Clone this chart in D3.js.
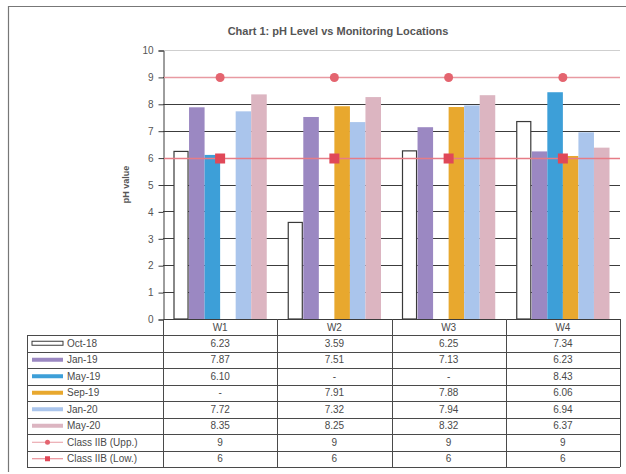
<!DOCTYPE html>
<html>
<head>
<meta charset="utf-8">
<script src="https://cdn.jsdelivr.net/npm/d3@7/dist/d3.min.js"></script>
<style>
  html, body { margin: 0; padding: 0; background: #ffffff; }
  svg { display: block; font-family: "Liberation Sans", Arial, sans-serif; }
</style>
</head>
<body>
<svg id="chart" width="626" height="474"></svg>
<script>
// Monitoring locations
const categories = ["W1", "W2", "W3", "W4"];

// Sampling campaigns (bars)
const seriesNames = ["Oct-18", "Jan-19", "May-19", "Sep-19", "Jan-20", "May-20"];
const oct18 = [6.23, 3.59, 6.25, 7.34];
const jan19 = [7.87, 7.51, 7.13, 6.23];
const may19 = [6.10, null, null, 8.43];
const sep19 = [null, 7.91, 7.88, 6.06];
const jan20 = [7.72, 7.32, 7.94, 6.94];
const may20 = [8.35, 8.25, 8.32, 6.37];

// Class IIB limits (lines)
const limitNames = ["Class IIB (Upp.)", "Class IIB (Low.)"];
const classUpper = [9, 9, 9, 9];
const classLower = [6, 6, 6, 6];

const yTicks = [0, 1, 2, 3, 4, 5, 6, 7, 8, 9, 10];

const barSeries = [oct18, jan19, may19, sep19, jan20, may20];
const barFill = ["#ffffff", "#9b88c2", "#3d9fd8", "#e8a82e", "#aac5ec", "#dcb5c1"];
const barStroke = ["#3a3a3a", null, null, null, null, null];
const upperLine = "#e89aa2", upperMark = "#e4646f";
const lowerLine = "#e67c86", lowerMark = "#e04858";

const svg = d3.select("#chart");
const ink = "#4a4a4a";

// Outer frame
svg.append("path")
  .attr("d", "M8.5,472 L8.5,6.5 L626,6.5")
  .attr("fill", "none").attr("stroke", "#777").attr("stroke-width", 1.2);

const plotLeft = 163, plotRight = 620, plotTop = 50, plotBottom = 319;

const y = d3.scaleLinear().domain([0, 10]).range([plotBottom, plotTop]);
const x0 = d3.scaleBand().domain(categories).range([plotLeft, plotRight]).padding(0);
const x1 = d3.scaleBand().domain(seriesNames)
  .range([10.5, x0.bandwidth() - 10.5]).padding(0);
const py = v => Math.round(y(v)) + 0.5;

// Title
svg.append("text")
  .attr("x", 338).attr("y", 35)
  .attr("text-anchor", "middle")
  .attr("font-size", 11).attr("font-weight", "bold")
  .attr("fill", "#555")
  .text("Chart 1: pH Level vs Monitoring Locations");

// Y axis title
svg.append("text")
  .attr("transform", "translate(129," + ((plotTop + plotBottom) / 2) + ") rotate(-90)")
  .attr("text-anchor", "middle")
  .attr("font-size", 9).attr("font-weight", "bold")
  .attr("fill", "#555")
  .text("pH value");

// Horizontal gridlines
svg.append("g")
  .selectAll("line")
  .data(yTicks.filter(d => d > 0))
  .join("line")
  .attr("x1", plotLeft).attr("x2", plotRight)
  .attr("y1", d => py(d)).attr("y2", d => py(d))
  .attr("stroke", d => d === 10 ? "#cfcfcf" : "#3c3c3c")
  .attr("stroke-width", 1);

// Y axis
const yAxis = d3.axisLeft(y).tickValues(yTicks).tickSize(5).tickPadding(5);
const gy = svg.append("g")
  .attr("transform", "translate(" + (plotLeft + 0.5) + ",0.5)")
  .call(yAxis);
gy.select(".domain").attr("stroke", "#3c3c3c");
gy.selectAll(".tick line").attr("stroke", "#3c3c3c");
gy.selectAll(".tick text")
  .attr("font-size", 10).attr("fill", "#555")
  .attr("font-family", "Liberation Sans, Arial, sans-serif");

// Bars
const groups = svg.append("g")
  .selectAll("g")
  .data(categories)
  .join("g")
  .attr("transform", d => "translate(" + x0(d) + ",0)");

groups.selectAll("rect")
  .data((c, ci) => seriesNames.map((s, si) => ({ s, si, v: barSeries[si][ci] }))
    .filter(d => d.v !== null))
  .join("rect")
  .attr("x", d => x1(d.s) + (barStroke[d.si] ? 0.5 : 0))
  .attr("width", d => x1.bandwidth() - (barStroke[d.si] ? 1.5 : 0))
  .attr("y", d => y(d.v))
  .attr("height", d => y(0) - y(d.v))
  .attr("fill", d => barFill[d.si])
  .attr("stroke", d => barStroke[d.si] || "none")
  .attr("stroke-width", 1.2);

// X axis baseline
svg.append("line")
  .attr("x1", plotLeft).attr("x2", plotRight)
  .attr("y1", plotBottom + 0.5).attr("y2", plotBottom + 0.5)
  .attr("stroke", "#3c3c3c");

// Limit lines with markers
const cx = d => x0(d) + x0.bandwidth() / 2;

svg.append("line")
  .attr("x1", plotLeft + 1).attr("x2", plotRight)
  .attr("y1", py(classUpper[0])).attr("y2", py(classUpper[classUpper.length - 1]))
  .attr("stroke", upperLine).attr("stroke-width", 1.3);
svg.append("g").selectAll("circle").data(classUpper).join("circle")
  .attr("cx", (d, i) => cx(categories[i])).attr("cy", d => py(d))
  .attr("r", 4.5).attr("fill", upperMark);

svg.append("line")
  .attr("x1", plotLeft + 1).attr("x2", plotRight)
  .attr("y1", py(classLower[0])).attr("y2", py(classLower[classLower.length - 1]))
  .attr("stroke", lowerLine).attr("stroke-width", 1.3);
svg.append("g").selectAll("rect").data(classLower).join("rect")
  .attr("x", (d, i) => cx(categories[i]) - 5).attr("y", d => py(d) - 5)
  .attr("width", 10).attr("height", 10).attr("fill", lowerMark);

// Data table
const tableLeft = 27, headTop = plotBottom, rowTop = 335, rowH = 16.5;
const rows = [
  { name: seriesNames[0], vals: oct18, key: "bar", si: 0 },
  { name: seriesNames[1], vals: jan19, key: "bar", si: 1 },
  { name: seriesNames[2], vals: may19, key: "bar", si: 2 },
  { name: seriesNames[3], vals: sep19, key: "bar", si: 3 },
  { name: seriesNames[4], vals: jan20, key: "bar", si: 4 },
  { name: seriesNames[5], vals: may20, key: "bar", si: 5 },
  { name: limitNames[0], vals: classUpper, key: "circle" },
  { name: limitNames[1], vals: classLower, key: "square" }
];
const tableBottom = rowTop + rows.length * rowH;
const grid = svg.append("g").attr("stroke", "#4a4a4a").attr("stroke-width", 1);

// horizontal rules
rows.forEach((r, i) => {
  grid.append("line")
    .attr("x1", tableLeft).attr("x2", plotRight)
    .attr("y1", Math.round(rowTop + i * rowH) + 0.5)
    .attr("y2", Math.round(rowTop + i * rowH) + 0.5);
});
grid.append("line")
  .attr("x1", tableLeft).attr("x2", plotRight)
  .attr("y1", Math.round(tableBottom) + 0.5).attr("y2", Math.round(tableBottom) + 0.5);

// vertical rules
grid.append("line")
  .attr("x1", tableLeft + 0.5).attr("x2", tableLeft + 0.5)
  .attr("y1", rowTop).attr("y2", tableBottom);
categories.forEach(c => {
  grid.append("line")
    .attr("x1", Math.round(x0(c)) + 0.5).attr("x2", Math.round(x0(c)) + 0.5)
    .attr("y1", headTop).attr("y2", tableBottom);
});
grid.append("line")
  .attr("x1", plotRight + 0.5).attr("x2", plotRight + 0.5)
  .attr("y1", headTop).attr("y2", tableBottom);

// column headers
svg.append("g").selectAll("text").data(categories).join("text")
  .attr("x", d => cx(d)).attr("y", headTop + 12)
  .attr("text-anchor", "middle").attr("font-size", 10).attr("fill", ink)
  .text(d => d);

// row labels, keys and values
const fmt = d3.format(".2f");
rows.forEach((r, i) => {
  const yc = rowTop + i * rowH + rowH / 2;
  const g = svg.append("g");
  if (r.key === "bar") {
    g.append("rect")
      .attr("x", 32).attr("y", yc - 2).attr("width", 31).attr("height", 4)
      .attr("fill", barFill[r.si])
      .attr("stroke", barStroke[r.si] || "none").attr("stroke-width", 1);
  } else {
    g.append("line")
      .attr("x1", 32).attr("x2", 63).attr("y1", yc).attr("y2", yc)
      .attr("stroke", r.key === "circle" ? upperLine : lowerLine);
    if (r.key === "circle") {
      g.append("circle").attr("cx", 47.5).attr("cy", yc).attr("r", 2.5).attr("fill", upperMark);
    } else {
      g.append("rect").attr("x", 45).attr("y", yc - 2.5).attr("width", 5).attr("height", 5)
        .attr("fill", lowerMark);
    }
  }
  g.append("text")
    .attr("x", 67).attr("y", yc + 3.5)
    .attr("font-size", 10).attr("fill", ink)
    .text(r.name);
  g.selectAll("text.val").data(r.vals).join("text")
    .attr("class", "val")
    .attr("x", (d, ci) => cx(categories[ci])).attr("y", yc + 3.5)
    .attr("text-anchor", "middle").attr("font-size", 10).attr("fill", ink)
    .text(d => d === null ? "-" : (Number.isInteger(d) && r.key !== "bar" ? d : fmt(d)));
});
</script>
</body>
</html>
